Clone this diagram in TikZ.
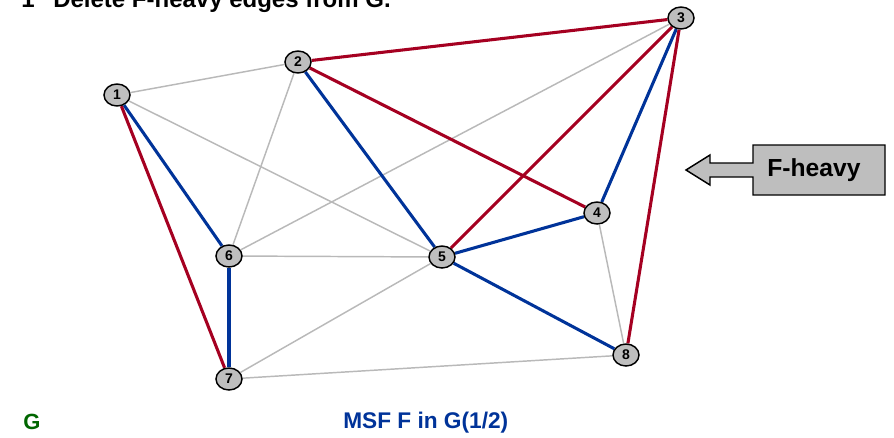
\documentclass[tikz,border=0pt]{standalone}
\usepackage{fontspec}
\setmainfont{Liberation Sans}
\usetikzlibrary{shapes.geometric,backgrounds}
\definecolor{heavyred}{RGB}{165,0,33}
\definecolor{forestblue}{RGB}{0,51,153}
\definecolor{plainedge}{RGB}{185,185,185}
\definecolor{vertexfill}{RGB}{190,190,190}
\definecolor{labelgreen}{RGB}{0,102,0}
\begin{document}
\begin{tikzpicture}[x=0.75pt,y=-0.75pt,
  vertex/.style={ellipse,draw=black,fill=vertexfill,line width=1.1pt,
    minimum width=19.5pt,minimum height=16.5pt,inner sep=0pt,
    font=\fontsize{10.5}{10.5}\selectfont\bfseries},
  plain/.style={draw=plainedge,line width=1.1pt},
  tree/.style={draw=forestblue,line width=2.3pt},
  heavy/.style={draw=heavyred,line width=2.3pt},
  caption/.style={anchor=base west,inner sep=0pt,font=\bfseries}]
\useasboundingbox (0,0) rectangle (894,437);

% vertices
\node[vertex] (v1) at (117,95)  {1};
\node[vertex] (v2) at (298,62)  {2};
\node[vertex] (v3) at (681,18)  {3};
\node[vertex] (v4) at (597,213) {4};
\node[vertex] (v5) at (442,257) {5};
\node[vertex] (v6) at (229,256) {6};
\node[vertex] (v7) at (229,379) {7};
\node[vertex] (v8) at (626,355) {8};

% edges, kept beneath the vertices
\begin{pgfonlayer}{background}
\path[plain] (v1) -- (v2);
\path[plain] (v1) -- (v5);
\path[plain] (v2) -- (v6);
\path[plain] (v6) -- (v3);
\path[plain] (v6) -- (v5);
\path[plain] (v7) -- (v5);
\path[plain] (v7) -- (v8);
\path[plain] (v4) -- (v8);
\path[tree] (v1) -- (v6);
\path[tree] (v6) -- (v7);
\path[tree] (v2) -- (v5);
\path[tree] (v5) -- (v4);
\path[tree] (v4) -- (v3);
\path[tree] (v5) -- (v8);
\path[heavy] (v1) -- (v7);
\path[heavy] (v2) -- (v3);
\path[heavy] (v2) -- (v4);
\path[heavy] (v5) -- (v3);
\path[heavy] (v3) -- (v8);
\end{pgfonlayer}

% callout box with arrow pointing left
\path[draw=black,fill=vertexfill,line width=1.1pt,line join=miter]
  (753,145) -- (885,145) -- (885,195) -- (753,195) -- (753,177)
  -- (710,177) -- (710,185) -- (686,170) -- (710,155) -- (710,163)
  -- (753,163) -- cycle;
\node[inner sep=0pt,font=\fontsize{18.5}{18.5}\selectfont\bfseries]
  (fheavy) at (814,170) {F-heavy};

% captions
\node[caption,font=\fontsize{18}{18}\selectfont\bfseries] (num) at (21,7) {1};
\node[caption,font=\fontsize{18}{18}\selectfont\bfseries] (title) at (53,7)
  {Delete F-heavy edges from G.};
\node[caption,font=\fontsize{16.5}{16.5}\selectfont\bfseries,text=labelgreen]
  (glabel) at (23,429) {G};
\node[caption,font=\fontsize{17}{17}\selectfont\bfseries,text=forestblue]
  (msf) at (343,428) {MSF F in G(1/2)};
\end{tikzpicture}
\end{document}
